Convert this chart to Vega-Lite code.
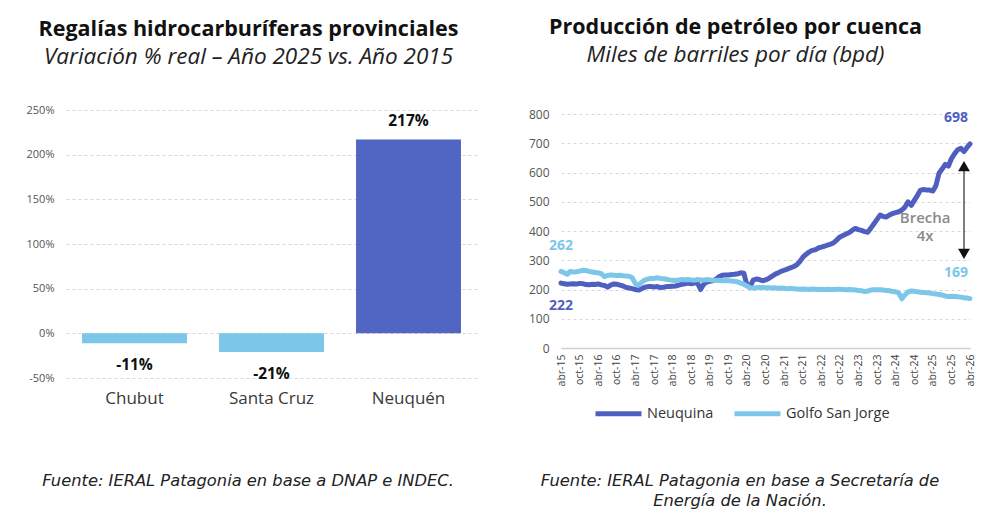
{
  "$schema": "https://vega.github.io/schema/vega-lite/v6.json",
  "padding": {"left": 22, "top": 17, "right": 5, "bottom": 0},
  "background": "white",
  "config": {
    "font": "Open Sans",
    "view": {"stroke": null},
    "locale": {"number": {"decimal": ".", "thousands": ",", "grouping": [3], "currency": ["$", ""], "minus": "-"}},
    "axis": {"labelColor": "#555555", "domain": false, "ticks": false, "gridColor": "#d6d6d6", "gridDash": [3, 3]}
  },
  "resolve": {"scale": {"color": "independent"}, "legend": {"color": "independent"}},
  "spacing": 15,
  "vconcat": [
    {
      "spacing": 51,
      "resolve": {"scale": {"color": "independent"}, "legend": {"color": "independent"}},
      "hconcat": [
        {
          "width": 411,
          "height": 268,
          "title": {
            "text": "Regalías hidrocarburíferas provinciales",
            "subtitle": "Variación % real – Año 2025 vs. Año 2015",
            "anchor": "middle", "frame": "group", "dx": -23,
            "fontSize": 21.5, "fontWeight": "bold", "color": "#111111",
            "subtitleFontSize": 22.5, "subtitleFontStyle": "italic", "subtitleColor": "#222222",
            "subtitlePadding": 5, "offset": 36
          },
          "data": {"values": [
            {"provincia": "Chubut", "variacion": -0.11},
            {"provincia": "Santa Cruz", "variacion": -0.21},
            {"provincia": "Neuquén", "variacion": 2.17}
          ]},
          "encoding": {
            "x": {"field": "provincia", "type": "nominal", "sort": null,
              "scale": {"paddingInner": 0.234, "paddingOuter": 0.117},
              "axis": {"title": null, "labelAngle": 0, "labelFontSize": 17, "labelColor": "#3a3a3a", "labelPadding": 12}},
            "y": {"field": "variacion", "type": "quantitative",
              "scale": {"domain": [-0.5, 2.5], "nice": false, "zero": false},
              "axis": {"title": null, "values": [-0.5, 0, 0.5, 1, 1.5, 2, 2.5], "tickCount": 50, "format": ".0%", "labelFontSize": 11, "labelPadding": 12, "minExtent": 44, "maxExtent": 44, "grid": true}}
          },
          "layer": [
            {
              "mark": {"type": "bar"},
              "encoding": {
                "color": {"condition": {"test": "datum.variacion > 0", "value": "#5166C3"}, "value": "#7CC6EA"}
              }
            },
            {
              "data": {"values": [{}]},
              "mark": {"type": "rule", "color": "#cfcfcf", "strokeWidth": 1.3},
              "encoding": {"x": null, "y": {"datum": 0, "type": "quantitative"}}
            },
            {
              "transform": [{"filter": "datum.variacion > 0"}],
              "mark": {"type": "text", "baseline": "alphabetic", "dy": -13, "fontSize": 15.5, "fontWeight": "bold", "color": "#111111"},
              "encoding": {
                "text": {"field": "variacion", "type": "quantitative", "format": ".0%"}
              }
            },
            {
              "transform": [{"filter": "datum.variacion < 0"}],
              "mark": {"type": "text", "baseline": "alphabetic", "dy": 27, "fontSize": 15.5, "fontWeight": "bold", "color": "#111111"},
              "encoding": {
                "text": {"field": "variacion", "type": "quantitative", "format": ".0%"}
              }
            }
          ]
        },
        {
          "width": 409,
          "height": 238,
          "title": {
            "text": "Producción de petróleo por cuenca",
            "subtitle": "Miles de barriles por día (bpd)",
            "anchor": "middle", "frame": "group", "dx": -30,
            "fontSize": 21.5, "fontWeight": "bold", "color": "#111111",
            "subtitleFontSize": 22.5, "subtitleFontStyle": "italic", "subtitleColor": "#222222",
            "subtitlePadding": 5, "offset": 42
          },
          "layer": [
            {
              "data": {"values": [
                {"f": "2015-04-01", "Neuquina": 222, "Golfo San Jorge": 262},
                {"f": "2015-05-01", "Neuquina": 220, "Golfo San Jorge": 258},
                {"f": "2015-06-01", "Neuquina": 218, "Golfo San Jorge": 252},
                {"f": "2015-07-01", "Neuquina": 219, "Golfo San Jorge": 262},
                {"f": "2015-08-01", "Neuquina": 220, "Golfo San Jorge": 260},
                {"f": "2015-09-01", "Neuquina": 219, "Golfo San Jorge": 261},
                {"f": "2015-10-01", "Neuquina": 221, "Golfo San Jorge": 263},
                {"f": "2015-11-01", "Neuquina": 220, "Golfo San Jorge": 266},
                {"f": "2015-12-01", "Neuquina": 217, "Golfo San Jorge": 265},
                {"f": "2016-01-01", "Neuquina": 216, "Golfo San Jorge": 262},
                {"f": "2016-02-01", "Neuquina": 218, "Golfo San Jorge": 260},
                {"f": "2016-03-01", "Neuquina": 217, "Golfo San Jorge": 258},
                {"f": "2016-04-01", "Neuquina": 219, "Golfo San Jorge": 257},
                {"f": "2016-05-01", "Neuquina": 216, "Golfo San Jorge": 254},
                {"f": "2016-06-01", "Neuquina": 214, "Golfo San Jorge": 244},
                {"f": "2016-07-01", "Neuquina": 208, "Golfo San Jorge": 248},
                {"f": "2016-08-01", "Neuquina": 215, "Golfo San Jorge": 250},
                {"f": "2016-09-01", "Neuquina": 219, "Golfo San Jorge": 249},
                {"f": "2016-10-01", "Neuquina": 218, "Golfo San Jorge": 248},
                {"f": "2016-11-01", "Neuquina": 215, "Golfo San Jorge": 249},
                {"f": "2016-12-01", "Neuquina": 212, "Golfo San Jorge": 247},
                {"f": "2017-01-01", "Neuquina": 207, "Golfo San Jorge": 246},
                {"f": "2017-02-01", "Neuquina": 205, "Golfo San Jorge": 245},
                {"f": "2017-03-01", "Neuquina": 203, "Golfo San Jorge": 240},
                {"f": "2017-04-01", "Neuquina": 200, "Golfo San Jorge": 220},
                {"f": "2017-05-01", "Neuquina": 198, "Golfo San Jorge": 215},
                {"f": "2017-06-01", "Neuquina": 203, "Golfo San Jorge": 225},
                {"f": "2017-07-01", "Neuquina": 208, "Golfo San Jorge": 232},
                {"f": "2017-08-01", "Neuquina": 210, "Golfo San Jorge": 236},
                {"f": "2017-09-01", "Neuquina": 210, "Golfo San Jorge": 238},
                {"f": "2017-10-01", "Neuquina": 209, "Golfo San Jorge": 238},
                {"f": "2017-11-01", "Neuquina": 210, "Golfo San Jorge": 240},
                {"f": "2017-12-01", "Neuquina": 207, "Golfo San Jorge": 238},
                {"f": "2018-01-01", "Neuquina": 208, "Golfo San Jorge": 237},
                {"f": "2018-02-01", "Neuquina": 210, "Golfo San Jorge": 235},
                {"f": "2018-03-01", "Neuquina": 210, "Golfo San Jorge": 233},
                {"f": "2018-04-01", "Neuquina": 211, "Golfo San Jorge": 232},
                {"f": "2018-05-01", "Neuquina": 212, "Golfo San Jorge": 231},
                {"f": "2018-06-01", "Neuquina": 215, "Golfo San Jorge": 233},
                {"f": "2018-07-01", "Neuquina": 218, "Golfo San Jorge": 234},
                {"f": "2018-08-01", "Neuquina": 220, "Golfo San Jorge": 233},
                {"f": "2018-09-01", "Neuquina": 222, "Golfo San Jorge": 234},
                {"f": "2018-10-01", "Neuquina": 220, "Golfo San Jorge": 233},
                {"f": "2018-11-01", "Neuquina": 222, "Golfo San Jorge": 232},
                {"f": "2018-12-01", "Neuquina": 223, "Golfo San Jorge": 234},
                {"f": "2019-01-01", "Neuquina": 200, "Golfo San Jorge": 233},
                {"f": "2019-02-01", "Neuquina": 218, "Golfo San Jorge": 232},
                {"f": "2019-03-01", "Neuquina": 225, "Golfo San Jorge": 234},
                {"f": "2019-04-01", "Neuquina": 228, "Golfo San Jorge": 233},
                {"f": "2019-05-01", "Neuquina": 230, "Golfo San Jorge": 232},
                {"f": "2019-06-01", "Neuquina": 235, "Golfo San Jorge": 231},
                {"f": "2019-07-01", "Neuquina": 244, "Golfo San Jorge": 232},
                {"f": "2019-08-01", "Neuquina": 249, "Golfo San Jorge": 230},
                {"f": "2019-09-01", "Neuquina": 250, "Golfo San Jorge": 231},
                {"f": "2019-10-01", "Neuquina": 250, "Golfo San Jorge": 230},
                {"f": "2019-11-01", "Neuquina": 251, "Golfo San Jorge": 229},
                {"f": "2019-12-01", "Neuquina": 252, "Golfo San Jorge": 228},
                {"f": "2020-01-01", "Neuquina": 254, "Golfo San Jorge": 226},
                {"f": "2020-02-01", "Neuquina": 257, "Golfo San Jorge": 222},
                {"f": "2020-03-01", "Neuquina": 256, "Golfo San Jorge": 218},
                {"f": "2020-04-01", "Neuquina": 215, "Golfo San Jorge": 212},
                {"f": "2020-05-01", "Neuquina": 210, "Golfo San Jorge": 206},
                {"f": "2020-06-01", "Neuquina": 232, "Golfo San Jorge": 205},
                {"f": "2020-07-01", "Neuquina": 236, "Golfo San Jorge": 206},
                {"f": "2020-08-01", "Neuquina": 234, "Golfo San Jorge": 207},
                {"f": "2020-09-01", "Neuquina": 230, "Golfo San Jorge": 207},
                {"f": "2020-10-01", "Neuquina": 233, "Golfo San Jorge": 206},
                {"f": "2020-11-01", "Neuquina": 238, "Golfo San Jorge": 206},
                {"f": "2020-12-01", "Neuquina": 245, "Golfo San Jorge": 205},
                {"f": "2021-01-01", "Neuquina": 252, "Golfo San Jorge": 206},
                {"f": "2021-02-01", "Neuquina": 257, "Golfo San Jorge": 204},
                {"f": "2021-03-01", "Neuquina": 262, "Golfo San Jorge": 205},
                {"f": "2021-04-01", "Neuquina": 266, "Golfo San Jorge": 204},
                {"f": "2021-05-01", "Neuquina": 270, "Golfo San Jorge": 203},
                {"f": "2021-06-01", "Neuquina": 274, "Golfo San Jorge": 204},
                {"f": "2021-07-01", "Neuquina": 278, "Golfo San Jorge": 203},
                {"f": "2021-08-01", "Neuquina": 284, "Golfo San Jorge": 202},
                {"f": "2021-09-01", "Neuquina": 295, "Golfo San Jorge": 201},
                {"f": "2021-10-01", "Neuquina": 310, "Golfo San Jorge": 202},
                {"f": "2021-11-01", "Neuquina": 320, "Golfo San Jorge": 201},
                {"f": "2021-12-01", "Neuquina": 328, "Golfo San Jorge": 200},
                {"f": "2022-01-01", "Neuquina": 334, "Golfo San Jorge": 202},
                {"f": "2022-02-01", "Neuquina": 336, "Golfo San Jorge": 201},
                {"f": "2022-03-01", "Neuquina": 342, "Golfo San Jorge": 200},
                {"f": "2022-04-01", "Neuquina": 345, "Golfo San Jorge": 201},
                {"f": "2022-05-01", "Neuquina": 348, "Golfo San Jorge": 200},
                {"f": "2022-06-01", "Neuquina": 352, "Golfo San Jorge": 201},
                {"f": "2022-07-01", "Neuquina": 355, "Golfo San Jorge": 200},
                {"f": "2022-08-01", "Neuquina": 360, "Golfo San Jorge": 200},
                {"f": "2022-09-01", "Neuquina": 370, "Golfo San Jorge": 201},
                {"f": "2022-10-01", "Neuquina": 380, "Golfo San Jorge": 201},
                {"f": "2022-11-01", "Neuquina": 385, "Golfo San Jorge": 200},
                {"f": "2022-12-01", "Neuquina": 390, "Golfo San Jorge": 199},
                {"f": "2023-01-01", "Neuquina": 395, "Golfo San Jorge": 200},
                {"f": "2023-02-01", "Neuquina": 403, "Golfo San Jorge": 199},
                {"f": "2023-03-01", "Neuquina": 409, "Golfo San Jorge": 198},
                {"f": "2023-04-01", "Neuquina": 405, "Golfo San Jorge": 197},
                {"f": "2023-05-01", "Neuquina": 402, "Golfo San Jorge": 196},
                {"f": "2023-06-01", "Neuquina": 398, "Golfo San Jorge": 193},
                {"f": "2023-07-01", "Neuquina": 396, "Golfo San Jorge": 195},
                {"f": "2023-08-01", "Neuquina": 410, "Golfo San Jorge": 198},
                {"f": "2023-09-01", "Neuquina": 425, "Golfo San Jorge": 199},
                {"f": "2023-10-01", "Neuquina": 440, "Golfo San Jorge": 199},
                {"f": "2023-11-01", "Neuquina": 455, "Golfo San Jorge": 199},
                {"f": "2023-12-01", "Neuquina": 450, "Golfo San Jorge": 198},
                {"f": "2024-01-01", "Neuquina": 448, "Golfo San Jorge": 197},
                {"f": "2024-02-01", "Neuquina": 455, "Golfo San Jorge": 196},
                {"f": "2024-03-01", "Neuquina": 460, "Golfo San Jorge": 193},
                {"f": "2024-04-01", "Neuquina": 463, "Golfo San Jorge": 192},
                {"f": "2024-05-01", "Neuquina": 466, "Golfo San Jorge": 188},
                {"f": "2024-06-01", "Neuquina": 472, "Golfo San Jorge": 168},
                {"f": "2024-07-01", "Neuquina": 482, "Golfo San Jorge": 182},
                {"f": "2024-08-01", "Neuquina": 500, "Golfo San Jorge": 192},
                {"f": "2024-09-01", "Neuquina": 488, "Golfo San Jorge": 195},
                {"f": "2024-10-01", "Neuquina": 505, "Golfo San Jorge": 194},
                {"f": "2024-11-01", "Neuquina": 522, "Golfo San Jorge": 192},
                {"f": "2024-12-01", "Neuquina": 540, "Golfo San Jorge": 191},
                {"f": "2025-01-01", "Neuquina": 542, "Golfo San Jorge": 190},
                {"f": "2025-02-01", "Neuquina": 540, "Golfo San Jorge": 189},
                {"f": "2025-03-01", "Neuquina": 540, "Golfo San Jorge": 188},
                {"f": "2025-04-01", "Neuquina": 537, "Golfo San Jorge": 186},
                {"f": "2025-05-01", "Neuquina": 555, "Golfo San Jorge": 185},
                {"f": "2025-06-01", "Neuquina": 598, "Golfo San Jorge": 183},
                {"f": "2025-07-01", "Neuquina": 612, "Golfo San Jorge": 181},
                {"f": "2025-08-01", "Neuquina": 628, "Golfo San Jorge": 178},
                {"f": "2025-09-01", "Neuquina": 622, "Golfo San Jorge": 176},
                {"f": "2025-10-01", "Neuquina": 648, "Golfo San Jorge": 177},
                {"f": "2025-11-01", "Neuquina": 665, "Golfo San Jorge": 176},
                {"f": "2025-12-01", "Neuquina": 678, "Golfo San Jorge": 175},
                {"f": "2026-01-01", "Neuquina": 683, "Golfo San Jorge": 174},
                {"f": "2026-02-01", "Neuquina": 672, "Golfo San Jorge": 172},
                {"f": "2026-03-01", "Neuquina": 685, "Golfo San Jorge": 171},
                {"f": "2026-04-01", "Neuquina": 698, "Golfo San Jorge": 169}
              ]},
              "transform": [{"fold": ["Neuquina", "Golfo San Jorge"], "as": ["serie", "bpd"]}],
              "encoding": {
                "x": {"field": "f", "type": "temporal",
                  "scale": {"type": "utc", "nice": false, "domain": [{"year": 2015, "month": 4, "date": 1, "utc": true}, {"year": 2026, "month": 4, "date": 1, "utc": true}]},
                  "axis": {"title": null, "domain": true, "domainColor": "#cfcfcf", "domainWidth": 1.3, "grid": false, "tickCount": 100,
                    "labelAngle": -90, "labelFontSize": 10.5, "labelPadding": 6, "labelOverlap": false, "labelBound": false, "labelColor": "#444444",
                    "labelExpr": "['ene','feb','mar','abr','may','jun','jul','ago','sep','oct','nov','dic'][utcmonth(datum.value)] + '-' + utcFormat(datum.value, '%y')",
                    "values": [
                      {"year": 2015, "month": 4, "date": 1, "utc": true}, {"year": 2015, "month": 10, "date": 1, "utc": true},
                      {"year": 2016, "month": 4, "date": 1, "utc": true}, {"year": 2016, "month": 10, "date": 1, "utc": true},
                      {"year": 2017, "month": 4, "date": 1, "utc": true}, {"year": 2017, "month": 10, "date": 1, "utc": true},
                      {"year": 2018, "month": 4, "date": 1, "utc": true}, {"year": 2018, "month": 10, "date": 1, "utc": true},
                      {"year": 2019, "month": 4, "date": 1, "utc": true}, {"year": 2019, "month": 10, "date": 1, "utc": true},
                      {"year": 2020, "month": 4, "date": 1, "utc": true}, {"year": 2020, "month": 10, "date": 1, "utc": true},
                      {"year": 2021, "month": 4, "date": 1, "utc": true}, {"year": 2021, "month": 10, "date": 1, "utc": true},
                      {"year": 2022, "month": 4, "date": 1, "utc": true}, {"year": 2022, "month": 10, "date": 1, "utc": true},
                      {"year": 2023, "month": 4, "date": 1, "utc": true}, {"year": 2023, "month": 10, "date": 1, "utc": true},
                      {"year": 2024, "month": 4, "date": 1, "utc": true}, {"year": 2024, "month": 10, "date": 1, "utc": true},
                      {"year": 2025, "month": 4, "date": 1, "utc": true}, {"year": 2025, "month": 10, "date": 1, "utc": true},
                      {"year": 2026, "month": 4, "date": 1, "utc": true}
                    ]}},
                "y": {"field": "bpd", "type": "quantitative",
                  "scale": {"domain": [0, 814], "nice": false},
                  "axis": {"title": null, "values": [0, 100, 200, 300, 400, 500, 600, 700, 800], "tickCount": 50, "labelFontSize": 12, "labelPadding": 12, "minExtent": 33, "maxExtent": 33, "grid": true, "labelOverlap": false}}
              },
              "layer": [
                {
                  "mark": {"type": "line", "strokeWidth": 5, "strokeJoin": "round", "strokeCap": "round"},
                  "encoding": {
                    "color": {"field": "serie", "type": "nominal",
                      "scale": {"domain": ["Neuquina", "Golfo San Jorge"], "range": ["#4F5FC0", "#7CC6EA"]},
                      "legend": {"title": null, "orient": "bottom", "direction": "horizontal", "symbolType": "stroke", "symbolSize": 2116, "symbolStrokeWidth": 5, "labelFontSize": 14.5, "labelColor": "#333333", "columnPadding": 10, "padding": 32, "offset": -30, "labelOffset": 3}}
                  }
                },
                {
                  "transform": [{"filter": "datum.serie == 'Golfo San Jorge' && +toDate(datum.f) == +toDate('2015-04-01')"}],
                  "mark": {"type": "text", "dy": -25, "fontSize": 14, "fontWeight": "bold", "color": "#7CC6EA"},
                  "encoding": {"text": {"field": "bpd", "type": "quantitative"}}
                },
                {
                  "transform": [{"filter": "datum.serie == 'Neuquina' && +toDate(datum.f) == +toDate('2015-04-01')"}],
                  "mark": {"type": "text", "dy": 23, "fontSize": 14, "fontWeight": "bold", "color": "#4F5FC0"},
                  "encoding": {"text": {"field": "bpd", "type": "quantitative"}}
                },
                {
                  "transform": [{"filter": "datum.serie == 'Neuquina' && +toDate(datum.f) == +toDate('2026-04-01')"}],
                  "mark": {"type": "text", "dx": -14, "dy": -26, "fontSize": 14, "fontWeight": "bold", "color": "#4F5FC0"},
                  "encoding": {"text": {"field": "bpd", "type": "quantitative"}}
                },
                {
                  "transform": [{"filter": "datum.serie == 'Golfo San Jorge' && +toDate(datum.f) == +toDate('2026-04-01')"}],
                  "mark": {"type": "text", "dx": -14, "dy": -26, "fontSize": 14, "fontWeight": "bold", "color": "#7CC6EA"},
                  "encoding": {"text": {"field": "bpd", "type": "quantitative"}}
                }
              ]
            },
            {
              "data": {"values": [{}]},
              "mark": {"type": "text", "fontSize": 15, "fontWeight": 600, "color": "#8a8a8a", "lineHeight": 18},
              "encoding": {
                "x": {"datum": {"year": 2025, "month": 1, "date": 15, "utc": true}, "type": "temporal"},
                "y": {"datum": 445, "type": "quantitative"},
                "text": {"value": ["Brecha", "4x"]}
              }
            },
            {
              "data": {"values": [{}]},
              "mark": {"type": "rule", "color": "#555555", "strokeWidth": 1.5},
              "encoding": {
                "x": {"datum": {"year": 2026, "month": 2, "date": 1, "utc": true}, "type": "temporal"},
                "y": {"datum": 612, "type": "quantitative"},
                "y2": {"datum": 330}
              }
            },
            {
              "data": {"values": [{}]},
              "mark": {"type": "point", "shape": "triangle-up", "filled": true, "color": "#111111", "size": 140, "opacity": 1},
              "encoding": {
                "x": {"datum": {"year": 2026, "month": 2, "date": 1, "utc": true}, "type": "temporal"},
                "y": {"datum": 622, "type": "quantitative"}
              }
            },
            {
              "data": {"values": [{}]},
              "mark": {"type": "point", "shape": "triangle-down", "filled": true, "color": "#111111", "size": 140, "opacity": 1},
              "encoding": {
                "x": {"datum": {"year": 2026, "month": 2, "date": 1, "utc": true}, "type": "temporal"},
                "y": {"datum": 322, "type": "quantitative"}
              }
            }
          ]
        }
      ]
    },
    {
      "spacing": 76,
      "hconcat": [
        {
          "width": 364,
          "height": 20,
          "data": {"values": [{"t": "Fuente: IERAL Patagonia en base a DNAP e INDEC."}]},
          "mark": {"type": "text", "font": "DejaVu Sans", "fontSize": 16.3, "fontStyle": "italic", "color": "#222222"},
          "encoding": {"text": {"field": "t", "type": "nominal"}}
        },
        {
          "width": 420,
          "height": 20,
          "data": {"values": [{"t": ["Fuente: IERAL Patagonia en base a Secretaría de", "Energía de la Nación."]}]},
          "mark": {"type": "text", "font": "DejaVu Sans", "fontSize": 16.3, "fontStyle": "italic", "color": "#222222", "lineHeight": 20},
          "encoding": {"text": {"field": "t", "type": "nominal"}}
        }
      ]
    }
  ]
}
